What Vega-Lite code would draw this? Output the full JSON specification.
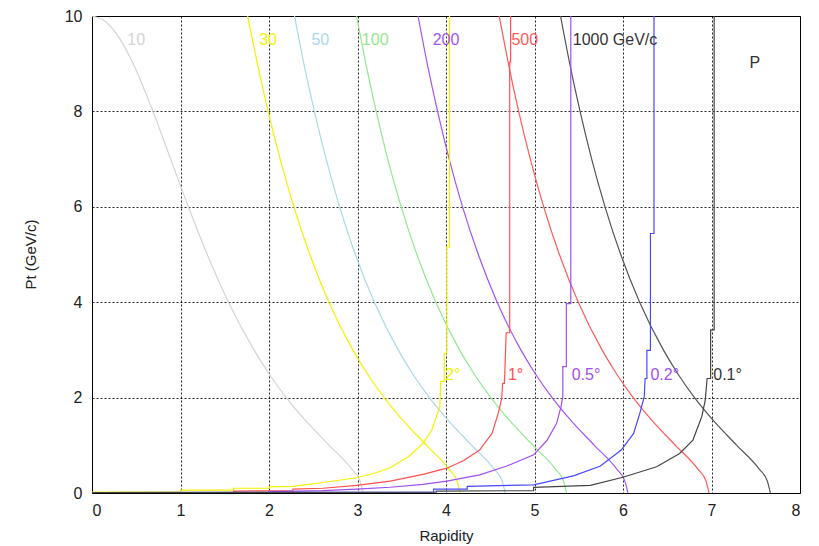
{
  "$schema": "https://vega.github.io/schema/vega-lite/v6.json",
  "width": 708,
  "height": 477,
  "autosize": "none",
  "padding": {"left": 92, "top": 16, "right": 19, "bottom": 53},
  "background": "white",
  "config": {
    "font": "Liberation Sans",
    "view": {"stroke": "#000", "strokeWidth": 1},
    "axis": {
      "grid": true, "gridColor": "#000", "gridDash": [2, 2], "gridOpacity": 0.85, "gridWidth": 1,
      "domain": false, "ticks": false,
      "labelFont": "Liberation Sans", "labelFontSize": 16, "labelColor": "#222",
      "titleFont": "Liberation Sans", "titleFontSize": 15, "titleFontWeight": "normal", "titleColor": "#222"
    }
  },
  "datasets": {
    "mom": [
      {"curve": "p10", "rap": 0.0, "pt": 10}, {"curve": "p10", "rap": 0.141, "pt": 9.9}, {"curve": "p10", "rap": 0.225, "pt": 9.75}, {"curve": "p10", "rap": 0.322, "pt": 9.5}, {"curve": "p10", "rap": 0.465, "pt": 9}, {"curve": "p10", "rap": 0.689, "pt": 8}, {"curve": "p10", "rap": 0.889, "pt": 7}, {"curve": "p10", "rap": 1.089, "pt": 6}, {"curve": "p10", "rap": 1.302, "pt": 5}, {"curve": "p10", "rap": 1.542, "pt": 4}, {"curve": "p10", "rap": 1.83, "pt": 3}, {"curve": "p10", "rap": 2.0, "pt": 2.5}, {"curve": "p10", "rap": 2.195, "pt": 2}, {"curve": "p10", "rap": 2.422, "pt": 1.5}, {"curve": "p10", "rap": 2.68, "pt": 1}, {"curve": "p10", "rap": 2.936, "pt": 0.5}, {"curve": "p10", "rap": 3.028, "pt": 0.25}, {"curve": "p10", "rap": 3.062, "pt": 0},
      {"curve": "p30", "rap": 1.759, "pt": 10}, {"curve": "p30", "rap": 1.869, "pt": 9}, {"curve": "p30", "rap": 1.99, "pt": 8}, {"curve": "p30", "rap": 2.126, "pt": 7}, {"curve": "p30", "rap": 2.281, "pt": 6}, {"curve": "p30", "rap": 2.461, "pt": 5}, {"curve": "p30", "rap": 2.677, "pt": 4}, {"curve": "p30", "rap": 2.947, "pt": 3}, {"curve": "p30", "rap": 3.111, "pt": 2.5}, {"curve": "p30", "rap": 3.301, "pt": 2}, {"curve": "p30", "rap": 3.524, "pt": 1.5}, {"curve": "p30", "rap": 3.779, "pt": 1}, {"curve": "p30", "rap": 4.033, "pt": 0.5}, {"curve": "p30", "rap": 4.124, "pt": 0.25}, {"curve": "p30", "rap": 4.159, "pt": 0},
      {"curve": "p50", "rap": 2.288, "pt": 10}, {"curve": "p50", "rap": 2.394, "pt": 9}, {"curve": "p50", "rap": 2.513, "pt": 8}, {"curve": "p50", "rap": 2.646, "pt": 7}, {"curve": "p50", "rap": 2.798, "pt": 6}, {"curve": "p50", "rap": 2.976, "pt": 5}, {"curve": "p50", "rap": 3.191, "pt": 4}, {"curve": "p50", "rap": 3.459, "pt": 3}, {"curve": "p50", "rap": 3.622, "pt": 2.5}, {"curve": "p50", "rap": 3.812, "pt": 2}, {"curve": "p50", "rap": 4.035, "pt": 1.5}, {"curve": "p50", "rap": 4.29, "pt": 1}, {"curve": "p50", "rap": 4.544, "pt": 0.5}, {"curve": "p50", "rap": 4.635, "pt": 0.25}, {"curve": "p50", "rap": 4.669, "pt": 0},
      {"curve": "p100", "rap": 2.989, "pt": 10}, {"curve": "p100", "rap": 3.094, "pt": 9}, {"curve": "p100", "rap": 3.211, "pt": 8}, {"curve": "p100", "rap": 3.342, "pt": 7}, {"curve": "p100", "rap": 3.494, "pt": 6}, {"curve": "p100", "rap": 3.671, "pt": 5}, {"curve": "p100", "rap": 3.885, "pt": 4}, {"curve": "p100", "rap": 4.153, "pt": 3}, {"curve": "p100", "rap": 4.316, "pt": 2.5}, {"curve": "p100", "rap": 4.506, "pt": 2}, {"curve": "p100", "rap": 4.728, "pt": 1.5}, {"curve": "p100", "rap": 4.983, "pt": 1}, {"curve": "p100", "rap": 5.237, "pt": 0.5}, {"curve": "p100", "rap": 5.328, "pt": 0.25}, {"curve": "p100", "rap": 5.362, "pt": 0},
      {"curve": "p200", "rap": 3.684, "pt": 10}, {"curve": "p200", "rap": 3.788, "pt": 9}, {"curve": "p200", "rap": 3.905, "pt": 8}, {"curve": "p200", "rap": 4.036, "pt": 7}, {"curve": "p200", "rap": 4.187, "pt": 6}, {"curve": "p200", "rap": 4.365, "pt": 5}, {"curve": "p200", "rap": 4.578, "pt": 4}, {"curve": "p200", "rap": 4.846, "pt": 3}, {"curve": "p200", "rap": 5.009, "pt": 2.5}, {"curve": "p200", "rap": 5.199, "pt": 2}, {"curve": "p200", "rap": 5.421, "pt": 1.5}, {"curve": "p200", "rap": 5.676, "pt": 1}, {"curve": "p200", "rap": 5.93, "pt": 0.5}, {"curve": "p200", "rap": 6.021, "pt": 0.25}, {"curve": "p200", "rap": 6.056, "pt": 0},
      {"curve": "p500", "rap": 4.601, "pt": 10}, {"curve": "p500", "rap": 4.705, "pt": 9}, {"curve": "p500", "rap": 4.821, "pt": 8}, {"curve": "p500", "rap": 4.953, "pt": 7}, {"curve": "p500", "rap": 5.104, "pt": 6}, {"curve": "p500", "rap": 5.281, "pt": 5}, {"curve": "p500", "rap": 5.495, "pt": 4}, {"curve": "p500", "rap": 5.763, "pt": 3}, {"curve": "p500", "rap": 5.926, "pt": 2.5}, {"curve": "p500", "rap": 6.115, "pt": 2}, {"curve": "p500", "rap": 6.337, "pt": 1.5}, {"curve": "p500", "rap": 6.592, "pt": 1}, {"curve": "p500", "rap": 6.847, "pt": 0.5}, {"curve": "p500", "rap": 6.938, "pt": 0.25}, {"curve": "p500", "rap": 6.972, "pt": 0},
      {"curve": "p1000", "rap": 5.294, "pt": 10}, {"curve": "p1000", "rap": 5.398, "pt": 9}, {"curve": "p1000", "rap": 5.515, "pt": 8}, {"curve": "p1000", "rap": 5.646, "pt": 7}, {"curve": "p1000", "rap": 5.797, "pt": 6}, {"curve": "p1000", "rap": 5.974, "pt": 5}, {"curve": "p1000", "rap": 6.188, "pt": 4}, {"curve": "p1000", "rap": 6.456, "pt": 3}, {"curve": "p1000", "rap": 6.619, "pt": 2.5}, {"curve": "p1000", "rap": 6.808, "pt": 2}, {"curve": "p1000", "rap": 7.03, "pt": 1.5}, {"curve": "p1000", "rap": 7.285, "pt": 1}, {"curve": "p1000", "rap": 7.54, "pt": 0.5}, {"curve": "p1000", "rap": 7.631, "pt": 0.25}, {"curve": "p1000", "rap": 7.665, "pt": 0}
    ],
    "ang": [
      {"curve": "a2", "rap": 0, "pt": 0.02}, {"curve": "a2", "rap": 1.0, "pt": 0.02}, {"curve": "a2", "rap": 1.0, "pt": 0.06}, {"curve": "a2", "rap": 1.6, "pt": 0.06}, {"curve": "a2", "rap": 1.6, "pt": 0.1}, {"curve": "a2", "rap": 2.0, "pt": 0.1}, {"curve": "a2", "rap": 2.0, "pt": 0.13}, {"curve": "a2", "rap": 2.27, "pt": 0.14}, {"curve": "a2", "rap": 2.61, "pt": 0.22}, {"curve": "a2", "rap": 2.99, "pt": 0.32}, {"curve": "a2", "rap": 3.2, "pt": 0.42}, {"curve": "a2", "rap": 3.37, "pt": 0.53}, {"curve": "a2", "rap": 3.59, "pt": 0.78}, {"curve": "a2", "rap": 3.74, "pt": 1.04}, {"curve": "a2", "rap": 3.84, "pt": 1.32}, {"curve": "a2", "rap": 3.93, "pt": 1.81}, {"curve": "a2", "rap": 3.94, "pt": 2.34}, {"curve": "a2", "rap": 3.98, "pt": 2.34}, {"curve": "a2", "rap": 3.98, "pt": 2.93}, {"curve": "a2", "rap": 4.01, "pt": 2.93}, {"curve": "a2", "rap": 4.01, "pt": 5.16}, {"curve": "a2", "rap": 4.04, "pt": 5.16}, {"curve": "a2", "rap": 4.04, "pt": 10},
      {"curve": "a1", "rap": 0, "pt": 0.01}, {"curve": "a1", "rap": 1.6, "pt": 0.01}, {"curve": "a1", "rap": 1.6, "pt": 0.04}, {"curve": "a1", "rap": 2.27, "pt": 0.05}, {"curve": "a1", "rap": 2.27, "pt": 0.08}, {"curve": "a1", "rap": 2.61, "pt": 0.1}, {"curve": "a1", "rap": 2.99, "pt": 0.16}, {"curve": "a1", "rap": 3.37, "pt": 0.25}, {"curve": "a1", "rap": 3.74, "pt": 0.39}, {"curve": "a1", "rap": 4.01, "pt": 0.52}, {"curve": "a1", "rap": 4.2, "pt": 0.68}, {"curve": "a1", "rap": 4.38, "pt": 0.9}, {"curve": "a1", "rap": 4.52, "pt": 1.25}, {"curve": "a1", "rap": 4.59, "pt": 1.67}, {"curve": "a1", "rap": 4.63, "pt": 1.99}, {"curve": "a1", "rap": 4.64, "pt": 2.3}, {"curve": "a1", "rap": 4.66, "pt": 2.3}, {"curve": "a1", "rap": 4.68, "pt": 3.36}, {"curve": "a1", "rap": 4.72, "pt": 3.36}, {"curve": "a1", "rap": 4.72, "pt": 9.04}, {"curve": "a1", "rap": 4.73, "pt": 9.04}, {"curve": "a1", "rap": 4.73, "pt": 10},
      {"curve": "a05", "rap": 0, "pt": 0.01}, {"curve": "a05", "rap": 2.0, "pt": 0.01}, {"curve": "a05", "rap": 2.0, "pt": 0.03}, {"curve": "a05", "rap": 2.6, "pt": 0.05}, {"curve": "a05", "rap": 2.99, "pt": 0.08}, {"curve": "a05", "rap": 3.37, "pt": 0.12}, {"curve": "a05", "rap": 3.74, "pt": 0.18}, {"curve": "a05", "rap": 4.01, "pt": 0.25}, {"curve": "a05", "rap": 4.38, "pt": 0.38}, {"curve": "a05", "rap": 4.68, "pt": 0.56}, {"curve": "a05", "rap": 4.99, "pt": 0.8}, {"curve": "a05", "rap": 5.14, "pt": 1.1}, {"curve": "a05", "rap": 5.25, "pt": 1.46}, {"curve": "a05", "rap": 5.3, "pt": 1.81}, {"curve": "a05", "rap": 5.32, "pt": 2.03}, {"curve": "a05", "rap": 5.32, "pt": 2.65}, {"curve": "a05", "rap": 5.36, "pt": 2.65}, {"curve": "a05", "rap": 5.36, "pt": 3.97}, {"curve": "a05", "rap": 5.41, "pt": 3.97}, {"curve": "a05", "rap": 5.41, "pt": 10},
      {"curve": "a02", "rap": 0, "pt": 0.01}, {"curve": "a02", "rap": 3.86, "pt": 0.02}, {"curve": "a02", "rap": 3.86, "pt": 0.08}, {"curve": "a02", "rap": 4.24, "pt": 0.08}, {"curve": "a02", "rap": 4.24, "pt": 0.14}, {"curve": "a02", "rap": 4.99, "pt": 0.17}, {"curve": "a02", "rap": 5.44, "pt": 0.36}, {"curve": "a02", "rap": 5.74, "pt": 0.56}, {"curve": "a02", "rap": 5.98, "pt": 0.9}, {"curve": "a02", "rap": 6.12, "pt": 1.25}, {"curve": "a02", "rap": 6.19, "pt": 1.67}, {"curve": "a02", "rap": 6.24, "pt": 2.02}, {"curve": "a02", "rap": 6.25, "pt": 2.4}, {"curve": "a02", "rap": 6.27, "pt": 2.4}, {"curve": "a02", "rap": 6.27, "pt": 2.99}, {"curve": "a02", "rap": 6.31, "pt": 2.99}, {"curve": "a02", "rap": 6.31, "pt": 5.44}, {"curve": "a02", "rap": 6.35, "pt": 5.44}, {"curve": "a02", "rap": 6.35, "pt": 10},
      {"curve": "a01", "rap": 0, "pt": 0.01}, {"curve": "a01", "rap": 3.89, "pt": 0.02}, {"curve": "a01", "rap": 3.89, "pt": 0.04}, {"curve": "a01", "rap": 4.99, "pt": 0.05}, {"curve": "a01", "rap": 4.99, "pt": 0.12}, {"curve": "a01", "rap": 5.63, "pt": 0.16}, {"curve": "a01", "rap": 6.0, "pt": 0.33}, {"curve": "a01", "rap": 6.38, "pt": 0.55}, {"curve": "a01", "rap": 6.64, "pt": 0.83}, {"curve": "a01", "rap": 6.79, "pt": 1.11}, {"curve": "a01", "rap": 6.89, "pt": 1.6}, {"curve": "a01", "rap": 6.93, "pt": 1.95}, {"curve": "a01", "rap": 6.95, "pt": 2.4}, {"curve": "a01", "rap": 6.99, "pt": 2.4}, {"curve": "a01", "rap": 6.99, "pt": 3.42}, {"curve": "a01", "rap": 7.03, "pt": 3.42}, {"curve": "a01", "rap": 7.03, "pt": 10}
    ],
    "labelsC": [
      {"curve": "p10", "rap": 0.5, "pt": 9.5, "label": "10"},
      {"curve": "p30", "rap": 1.99, "pt": 9.5, "label": "30"},
      {"curve": "p50", "rap": 2.58, "pt": 9.5, "label": "50"},
      {"curve": "p100", "rap": 3.2, "pt": 9.5, "label": "100"},
      {"curve": "p200", "rap": 4.0, "pt": 9.5, "label": "200"},
      {"curve": "p500", "rap": 4.89, "pt": 9.5, "label": "500"},
      {"curve": "txt", "rap": 5.91, "pt": 9.5, "label": "1000 GeV/c"},
      {"curve": "txt", "rap": 7.49, "pt": 9.01, "label": "P"}
    ],
    "labelsL": [
      {"curve": "a2", "rap": 3.99, "pt": 2.47, "label": "2°"},
      {"curve": "a1", "rap": 4.7, "pt": 2.47, "label": "1°"},
      {"curve": "a05", "rap": 5.42, "pt": 2.47, "label": "0.5°"},
      {"curve": "a05", "rap": 6.31, "pt": 2.47, "label": "0.2°"},
      {"curve": "txt", "rap": 7.02, "pt": 2.47, "label": "0.1°"}
    ]
  },
  "encoding": {
    "x": {"field": "rap", "type": "quantitative", "scale": {"domain": [0, 8], "nice": false},
      "axis": {"values": [0, 1, 2, 3, 4, 5, 6, 7, 8], "title": "Rapidity", "labelPadding": 9, "titleY": 42, "titleBaseline": "middle", "titleX": 354}},
    "y": {"field": "pt", "type": "quantitative", "scale": {"domain": [0, 10], "nice": false},
      "axis": {"values": [0, 2, 4, 6, 8, 10], "title": "Pt (GeV/c)", "labelPadding": 10, "titleX": -62, "titleY": 238, "titleBaseline": "middle"}},
    "color": {"field": "curve", "type": "nominal", "legend": null,
      "scale": {"domain": ["p10", "p30", "p50", "p100", "p200", "p500", "p1000", "a2", "a1", "a05", "a02", "a01", "txt"],
        "range": ["#d4d4d4", "#f2f200", "#acd8e8", "#90e890", "#a454f4", "#ff5a5a", "#555555", "#f2f200", "#ff5050", "#a050f0", "#4848ff", "#444444", "#333333"]}}
  },
  "layer": [
    {"data": {"name": "mom"}, "mark": {"type": "line", "strokeWidth": 1.2, "interpolate": "monotone", "clip": true},
      "encoding": {"detail": {"field": "curve"}}},
    {"data": {"name": "ang"}, "mark": {"type": "line", "strokeWidth": 1.2, "clip": true},
      "encoding": {"detail": {"field": "curve"}, "order": {"value": null}}},
    {"data": {"name": "labelsC"}, "mark": {"type": "text", "align": "center", "baseline": "middle", "fontSize": 16, "font": "Liberation Sans"},
      "encoding": {"text": {"field": "label"}}},
    {"data": {"name": "labelsL"}, "mark": {"type": "text", "align": "left", "baseline": "middle", "fontSize": 16, "font": "Liberation Sans"},
      "encoding": {"text": {"field": "label"}}}
  ]
}
